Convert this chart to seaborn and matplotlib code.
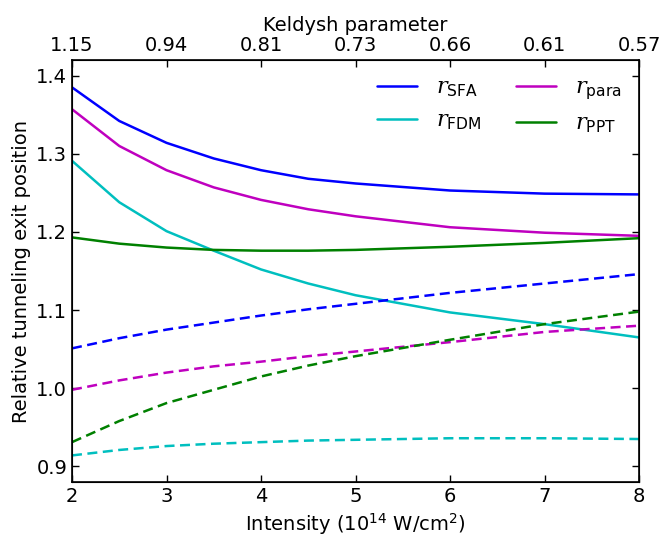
import matplotlib
matplotlib.use("Agg")
import matplotlib.pyplot as plt
import seaborn as sns
import pandas as pd

intensity = [2, 2.5, 3, 3.5, 4, 4.5, 5, 6, 7, 8]
r_sfa = [1.385, 1.342, 1.314, 1.294, 1.279, 1.268, 1.262, 1.253, 1.249, 1.248]
r_para = [1.357, 1.310, 1.279, 1.257, 1.241, 1.229, 1.220, 1.206, 1.199, 1.195]
r_fdm = [1.291, 1.238, 1.201, 1.176, 1.152, 1.134, 1.119, 1.097, 1.082, 1.065]
r_ppt = [1.193, 1.185, 1.180, 1.177, 1.176, 1.176, 1.177, 1.181, 1.186, 1.192]
d_sfa = [1.051, 1.064, 1.075, 1.084, 1.093, 1.101, 1.108, 1.122, 1.134, 1.146]
d_para = [0.998, 1.010, 1.020, 1.028, 1.034, 1.041, 1.047, 1.059, 1.072, 1.080]
d_fdm = [0.914, 0.921, 0.926, 0.929, 0.931, 0.933, 0.934, 0.936, 0.936, 0.935]
d_ppt = [0.931, 0.958, 0.981, 0.998, 1.015, 1.029, 1.041, 1.062, 1.082, 1.098]
keldysh_ticks = [2, 3, 4, 5, 6, 7, 8]
keldysh_labels = ["1.15", "0.94", "0.81", "0.73", "0.66", "0.61", "0.57"]

sns.set_style("ticks")
plt.rcParams["font.family"] = ["DejaVu Sans"]
plt.rcParams["mathtext.fontset"] = "custom"
plt.rcParams["mathtext.it"] = "DejaVu Serif:italic"
plt.rcParams["mathtext.rm"] = "DejaVu Sans"
plt.rcParams["mathtext.sf"] = "DejaVu Sans"
for k in ["text.color", "axes.labelcolor", "xtick.color", "ytick.color", "axes.edgecolor"]:
    plt.rcParams[k] = "black"

fig = plt.figure(figsize=(6.61, 5.39), dpi=100)
ax = fig.add_axes([72/661, 1-482/539, (639-72)/661, (482-60)/539])

solid = [(r_sfa, "b", r"$r_{\rm SFA}$"), (r_fdm, "c", r"$r_{\rm FDM}$"),
         (r_para, "m", r"$r_{\rm para}$"), (r_ppt, "g", r"$r_{\rm PPT}$")]
for vals, c, lab in solid:
    sns.lineplot(x=intensity, y=vals, color=c, lw=1.8, label=lab, ax=ax)
dashed = [(d_sfa, "b"), (d_fdm, "c"), (d_para, "m"), (d_ppt, "g")]
for vals, c in dashed:
    sns.lineplot(x=intensity, y=vals, color=c, lw=1.8, ax=ax)
    ax.lines[-1].set_linestyle((0, (4, 2.2)))

ax.set_xlim(2, 8)
ax.set_ylim(0.88, 1.42)
ax.set_yticks([0.9, 1.0, 1.1, 1.2, 1.3, 1.4])
ax.set_xticks([2, 3, 4, 5, 6, 7, 8])
ax.tick_params(direction="in", labelsize=14, length=5, width=1, right=True)
ax.set_xlabel(r"Intensity (10$^{14}$ W/cm$^{2}$)", fontsize=14)
ax.set_ylabel("Relative tunneling exit position", fontsize=14)
for s in ax.spines.values():
    s.set_linewidth(1.2)

ax.legend(ncol=2, frameon=False, fontsize=16, loc="upper right",
          handlelength=1.8, handletextpad=0.85, columnspacing=1.55, borderaxespad=0.4)

ax2 = ax.twiny()
ax2.set_xlim(2, 8)
ax2.set_xticks(keldysh_ticks)
ax2.set_xticklabels(keldysh_labels)
ax2.tick_params(direction="in", labelsize=14, length=5, width=1)
ax2.set_xlabel("Keldysh parameter", fontsize=14)

fig.savefig("out.png", dpi=100)
